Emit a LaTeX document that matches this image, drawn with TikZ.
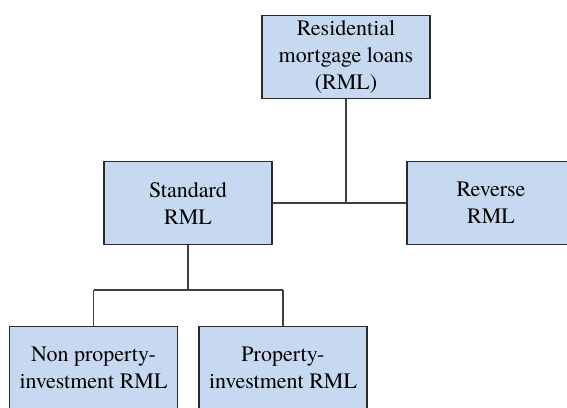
\documentclass[tikz,border=0pt]{standalone}
\usepackage{fontspec}
\setmainfont{TeX Gyre Termes}
\usepackage{tikz}

\definecolor{boxfill}{HTML}{C6D9F1}
\definecolor{boxline}{HTML}{2B2B2B}
\definecolor{linkline}{HTML}{404040}

\begin{document}
\begin{tikzpicture}[x=1pt, y=-1pt,
		every node/.style={rectangle, draw=boxline, line width=1.4pt, fill=boxfill, minimum width=168pt, minimum height=83pt, align=center, inner sep=0pt, font=\fontsize{22}{27}\selectfont},
		link/.style={draw=linkline, line width=1.1pt}]
				\clip (0,0) rectangle (567,407);
				\node (rml) at (346,57){Residential\\mortgage loans\\(RML)};
				
				\node (std) at (188,203){Standard\\RML};
				\node (rev) at (491,203){Reverse\\RML};
				
				\node (nonpi) at (93.5,368){Non property-\\investment RML};
				\node (pi) at (283,368){Property-\\investment RML};
				
				\coordinate (j1) at (rml.south |- std.east);
				\coordinate (j2) at (188,290);
				\coordinate (j3) at (nonpi.north |- j2);
				\coordinate (j4) at (pi.north |- j2);
				
				\path[link] (std) edge (rev);
				\path[link] (rml) edge (j1);
				
				\path[link] (std) edge (j2);
				\path[link] (j3) edge (j4);
				\path[link] (j3) edge (nonpi);
				\path[link] (j4) edge (pi);
				\end{tikzpicture}
\end{document}
